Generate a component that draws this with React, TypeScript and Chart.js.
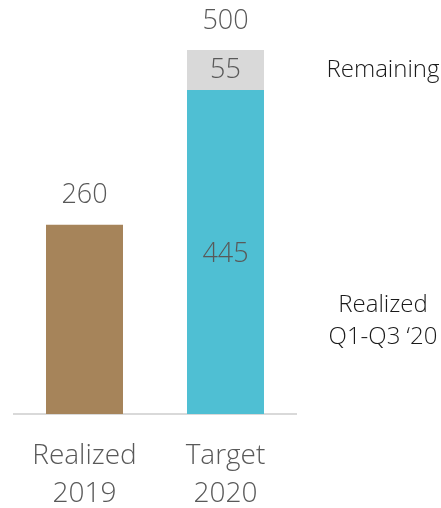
import React, { useEffect, useRef } from "react";
import { Chart, registerables } from "chart.js";

Chart.register(...registerables);

const categories: string[][] = [["Realized", "2019"], ["Target", "2020"]];
const realized2019: (number | null)[] = [260, null];
const realized2020: (number | null)[] = [null, 445];
const remaining2020: (number | null)[] = [null, 55];
const totals: number[] = [260, 500];
const sideLabels: { text: string[]; value: number }[] = [
  { text: ["Remaining"], value: 472.5 },
  { text: ["Realized", "Q1-Q3 \u201820"], value: 127 },
];

const FONT = "'Open Sans', 'Segoe UI', sans-serif";
const GREY_TEXT = "#595959";

const labelPlugin = {
  id: "labels",
  afterDatasetsDraw(chart: any) {
    const ctx = chart.ctx;
    const y = chart.scales.y;
    const x = chart.scales.x;
    const bottom = chart.chartArea.bottom;
    ctx.save();
    ctx.textAlign = "center";
    ctx.textBaseline = "middle";
    ctx.font = `300 27px ${FONT}`;
    ctx.fillStyle = GREY_TEXT;
    // totals above bars
    totals.forEach((t, i) => {
      ctx.fillText(String(t), x.getPixelForValue(i), y.getPixelForValue(t) - 29);
    });
    // segment labels inside stacked bar
    const base = realized2020[1] as number;
    const rem = remaining2020[1] as number;
    ctx.fillText(String(base), x.getPixelForValue(1), (y.getPixelForValue(0) + y.getPixelForValue(base)) / 2 + 2);
    ctx.fillText(String(rem), x.getPixelForValue(1), (y.getPixelForValue(base) + y.getPixelForValue(base + rem)) / 2);
    // category labels
    ctx.font = `300 28px ${FONT}`;
    categories.forEach((lines, i) => {
      lines.forEach((line, k) => {
        ctx.fillText(line, x.getPixelForValue(i), bottom + 42 + k * 38);
      });
    });
    // side labels
    ctx.font = `300 24px ${FONT}`;
    ctx.fillStyle = "#1a1a1a";
    sideLabels.forEach((s) => {
      const cy = y.getPixelForValue(s.value);
      const lh = 32;
      s.text.forEach((line, k) => {
        ctx.fillText(line, 383, cy + (k - (s.text.length - 1) / 2) * lh);
      });
    });
    ctx.restore();
  },
};

export default function App() {
  const ref = useRef<HTMLCanvasElement>(null);
  useEffect(() => {
    const chart = new Chart(ref.current!, {
      type: "bar",
      data: {
        labels: categories.map((c) => c.join(" ")),
        datasets: [
          { data: realized2019, backgroundColor: "#A6845A", stack: "s" },
          { data: realized2020, backgroundColor: "#4FBFD3", stack: "s" },
          { data: remaining2020, backgroundColor: "#D9D9D9", stack: "s" },
        ],
      },
      options: {
        animation: false,
        responsive: false,
        maintainAspectRatio: false,
        layout: { padding: { top: 50, left: 14, right: 145, bottom: 94 } },
        plugins: { legend: { display: false }, tooltip: { enabled: false } },
        datasets: { bar: { categoryPercentage: 1, barPercentage: 0.546 } },
        scales: {
          x: {
            stacked: true,
            grid: { display: false, drawTicks: false },
            border: { display: true, color: "#D9D9D9", width: 2 },
            ticks: { display: false },
          },
          y: { stacked: true, display: false, min: 0, max: 500 },
        },
      },
      plugins: [labelPlugin],
    });
    return () => chart.destroy();
  }, []);
  return (
    <div style={{ position: "absolute", left: 0, top: 0, width: 441, height: 508, background: "#fff" }}>
      <canvas ref={ref} width={441} height={508} style={{ display: "block" }} />
    </div>
  );
}
